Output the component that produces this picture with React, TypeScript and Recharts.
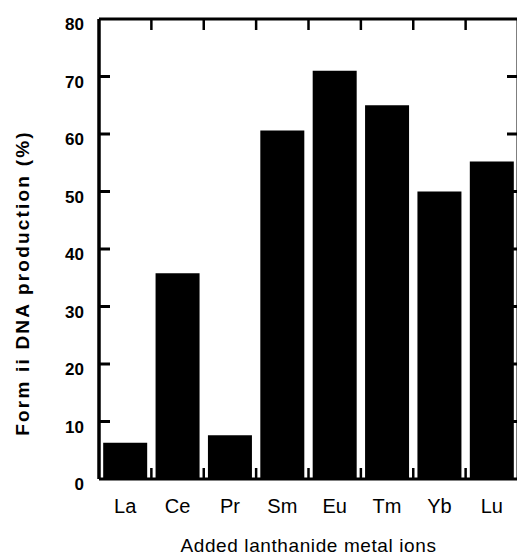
import { BarChart, Bar, XAxis, YAxis, Label, ReferenceLine } from "recharts";

// values
const ions = ["La", "Ce", "Pr", "Sm", "Eu", "Tm", "Yb", "Lu"];
const formII = [6.3, 35.8, 7.6, 60.6, 71, 65, 50, 55.2];
const yTicks = [0, 10, 20, 30, 40, 50, 60, 70, 80];
const innerYTicks = [10, 20, 30, 40, 50, 60, 70];

const data = ions.map((ion, i) => ({ ion, value: formII[i] }));

const W = 520;
const H = 556;
const PLOT_LEFT = 99;
const PLOT_TOP = 19;
const PLOT_BOTTOM = 479;
const PLOT_RIGHT = 518;
const TICK = 11;
const FONT = '"Liberation Sans", Arial, Helvetica, sans-serif';

const LeftTick = ({ y, payload }: any) => (
  <text x={PLOT_LEFT - 15} y={y + 11} textAnchor="end" fontFamily={FONT} fontSize={17} fontWeight="bold" fill="#000">
    {payload.value}
  </text>
);

const BottomTick = ({ x, payload }: any) => (
  <text x={x} y={PLOT_BOTTOM + 34} textAnchor="middle" fontFamily={FONT} fontSize={20} fill="#000">
    {payload.value}
  </text>
);

// inward ticks on the left and right frame, drawn from the reference line's end points
const HTicks = (p: any) => {
  const left = Math.min(p.x1, p.x2);
  const right = Math.max(p.x1, p.x2);
  return (
    <g>
      <line x1={left} x2={left + TICK} y1={p.y1} y2={p.y1} stroke="#000" strokeWidth={3} />
      <line x1={right - TICK} x2={right} y1={p.y1} y2={p.y1} stroke="#000" strokeWidth={3} />
    </g>
  );
};

// inward ticks on the top and bottom frame, between the bars
const VTicks = (p: any) => {
  const top = Math.min(p.y1, p.y2);
  const bottom = Math.max(p.y1, p.y2);
  return (
    <g>
      <line x1={p.x1} x2={p.x1} y1={top} y2={top + TICK} stroke="#000" strokeWidth={2.5} />
      <line x1={p.x1} x2={p.x1} y1={bottom - TICK} y2={bottom} stroke="#000" strokeWidth={2.5} />
    </g>
  );
};

export default function App() {
  return (
    <div style={{ position: "absolute", left: 0, top: 0, background: "#fff" }}>
      <BarChart
        width={W}
        height={H}
        data={data}
        margin={{ top: 0, right: 0, left: 0, bottom: 0 }}
        barCategoryGap="8%"
      >
        <XAxis
          xAxisId="top"
          dataKey="ion"
          orientation="top"
          height={PLOT_TOP}
          axisLine={{ stroke: "#000", strokeWidth: 3 }}
          tickLine={false}
          tick={false}
        />
        <XAxis
          dataKey="ion"
          height={H - PLOT_BOTTOM}
          axisLine={{ stroke: "#000", strokeWidth: 3 }}
          tickLine={false}
          tick={<BottomTick />}
          interval={0}
        >
          <Label
            content={({ viewBox }: any) => (
              <text
                x={viewBox.x + viewBox.width / 2}
                y={viewBox.y + viewBox.height - 4}
                textAnchor="middle"
                fontFamily={FONT}
                fontSize={19}
                letterSpacing={0.6}
                fill="#000"
              >
                Added lanthanide metal ions
              </text>
            )}
          />
        </XAxis>
        <YAxis
          domain={[0, 80]}
          ticks={yTicks}
          width={PLOT_LEFT}
          axisLine={{ stroke: "#000", strokeWidth: 3.5 }}
          tickLine={false}
          tick={<LeftTick />}
          interval={0}
        >
          <Label
            content={({ viewBox }: any) => {
              const cx = 29;
              const cy = viewBox.y + viewBox.height / 2 + 34;
              return (
                <text
                  x={cx}
                  y={cy}
                  transform={`rotate(-90, ${cx}, ${cy})`}
                  textAnchor="middle"
                  fontFamily={FONT}
                  fontSize={19}
                  fontWeight="bold"
                  letterSpacing={2.2}
                  fill="#000"
                >
                  Form ii DNA production (%)
                </text>
              );
            }}
          />
        </YAxis>
        <YAxis
          yAxisId="right"
          orientation="right"
          domain={[0, 80]}
          width={W - PLOT_RIGHT}
          axisLine={{ stroke: "#000", strokeWidth: 3 }}
          tickLine={false}
          tick={false}
        />
        <Bar dataKey="value" fill="#000" isAnimationActive={false} />
        {innerYTicks.map((v) => (
          <ReferenceLine key={`y${v}`} y={v} shape={HTicks} />
        ))}
        {ions.slice(1).map((ion) => (
          <ReferenceLine key={`x${ion}`} x={ion} position="start" shape={VTicks} />
        ))}
      </BarChart>
    </div>
  );
}
